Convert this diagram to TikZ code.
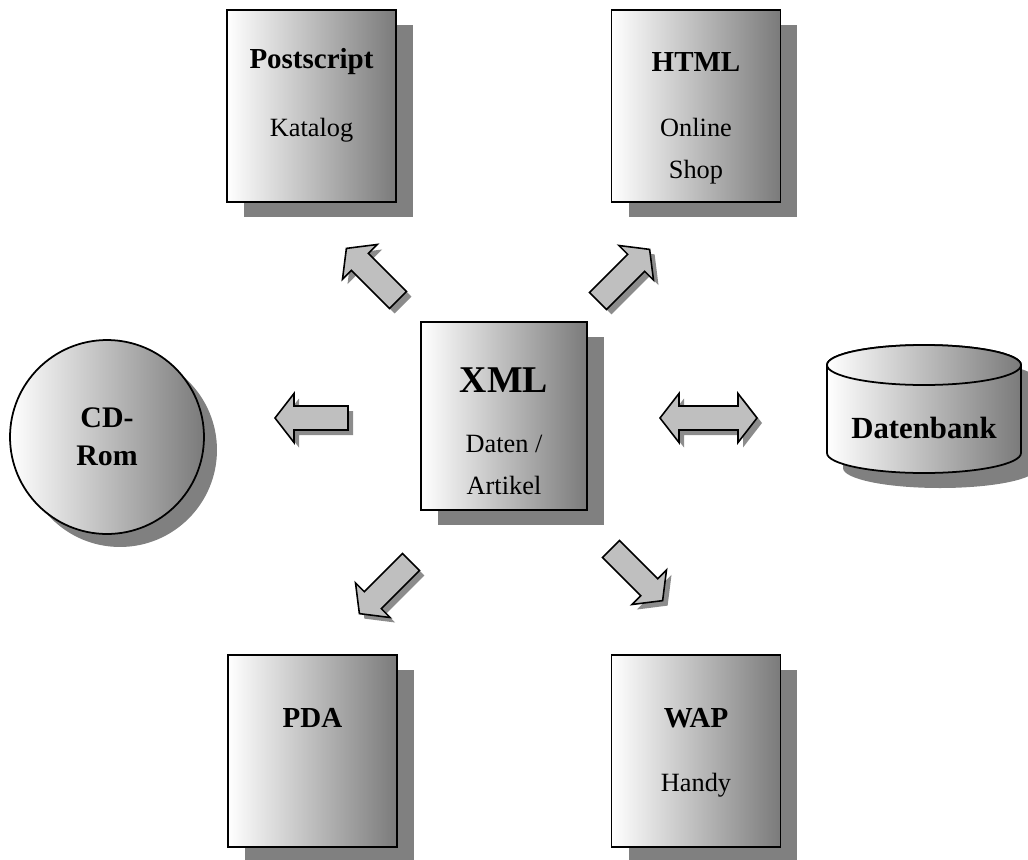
\documentclass[tikz,border=0pt]{standalone}
\usepackage{fontspec}
\setmainfont{Liberation Serif}
\usetikzlibrary{calc,shadows}

\begin{document}
\begin{tikzpicture}[x=0.02cm, y=-0.02cm, line join=miter,
  doc/.style={draw, line width=1pt, left color=white, right color=black!52,
    minimum width=3.38cm, minimum height=3.84cm, inner sep=0pt,
    drop shadow={shadow xshift=0.34cm, shadow yshift=-0.3cm, fill=black!50, opacity=1}},
  head/.style={font=\fontsize{16.5}{20}\selectfont\bfseries},
  sub/.style={font=\fontsize{15}{24}\selectfont, align=center},
  fat/.style={draw, line width=0.9pt, fill=black!25},
  fatshadow/.style={fill=black!45}]

  \useasboundingbox (0,0) rectangle (1028,859);

  % documents
  \node[doc] (ps) at (311.5,106) {};
  \node[doc] (html) at (696,106) {};
  \node[doc, minimum width=3.32cm, minimum height=3.76cm] (xml) at (504,416) {};
  \node[doc] (pda) at (312.5,751) {};
  \node[doc] (wap) at (696,751) {};

  \node[head] (ps-t) at (311.5,62) {Postscript};
  \node[sub] (ps-s) at (311.5,130) {Katalog};
  \node[head] (html-t) at (696,62) {HTML};
  \node[sub] (html-s) at (696,151) {Online\\Shop};
  \node[font=\fontsize{21.5}{24}\selectfont\bfseries] (xml-t) at (504,380) {XML};
  \node[sub] (xml-s) at (504,465) {Daten /\\Artikel};
  \node[head] (pda-t) at (312.5,718) {PDA};
  \node[head] (wap-t) at (696,718) {WAP};
  \node[sub] (wap-s) at (696,785) {Handy};

  % cd
  \node[circle, draw, line width=1pt, left color=white, right color=black!52,
    minimum size=3.88cm, inner sep=0pt, align=center,
    font=\fontsize{17}{21.5}\selectfont\bfseries,
    drop shadow={shadow xshift=0.26cm, shadow yshift=-0.26cm, fill=black!50, opacity=1}]
    (cd) at (107,437) {CD-\\Rom};

  % datenbank
  \fill[black!50, shift={(16,15)}] (827,365) -- (827,453)
    arc[start angle=180, end angle=0, x radius=97, y radius=20]
    -- (1021,365) arc[start angle=0, end angle=-180, x radius=97, y radius=20] -- cycle;
  \shade[left color=white, right color=black!52, draw, line width=1pt] (827,365) -- (827,453)
    arc[start angle=180, end angle=0, x radius=97, y radius=20]
    -- (1021,365) arc[start angle=0, end angle=-180, x radius=97, y radius=20] -- cycle;
  \shade[left color=white, right color=black!52, draw, line width=1pt]
    (924,365) ellipse[x radius=97, y radius=20];
  \node[font=\fontsize{17.5}{20}\selectfont\bfseries] (db) at (924,428) {Datenbank};

  % arrows
  \coordinate (aps) at (398,300);
  \coordinate (ahtml) at (598,301);
  \coordinate (acd) at (348,418);
  \coordinate (apda) at (411,562);
  \coordinate (awap) at (611,549);
  \coordinate (adb) at (660,418);

  \foreach \t/\a in {aps/135, ahtml/45, acd/180, apda/225, awap/-45} {
    \fill[fatshadow, shift={(\t)}, shift={(5,5)}, rotate=\a]
      (0,-12) -- (54,-12) -- (54,-24.5) -- (73,0) -- (54,24.5) -- (54,12) -- (0,12) -- cycle;
    \draw[fat, shift={(\t)}, rotate=\a]
      (0,-12) -- (54,-12) -- (54,-24.5) -- (73,0) -- (54,24.5) -- (54,12) -- (0,12) -- cycle;
  }

  \fill[fatshadow, shift={(adb)}, shift={(5,5)}]
    (0,0) -- (19,-24.5) -- (19,-12) -- (78,-12) -- (78,-24.5) -- (97,0)
    -- (78,24.5) -- (78,12) -- (19,12) -- (19,24.5) -- cycle;
  \draw[fat, shift={(adb)}]
    (0,0) -- (19,-24.5) -- (19,-12) -- (78,-12) -- (78,-24.5) -- (97,0)
    -- (78,24.5) -- (78,12) -- (19,12) -- (19,24.5) -- cycle;
\end{tikzpicture}
\end{document}
